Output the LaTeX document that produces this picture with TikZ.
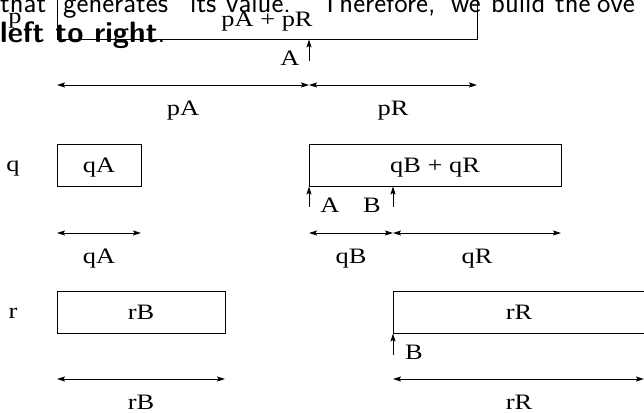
\documentclass[tikz,border=0pt]{standalone}
\usepackage{fontspec}
\newfontfamily\diagfont{Liberation Serif}[FakeStretch=1.2]
\usetikzlibrary{arrows.meta}
\begin{document}
\begin{tikzpicture}[x=1pt,y=-1pt,
  lbl/.style={font=\diagfont\fontsize{22}{26}\selectfont, inner sep=0pt, anchor=base},
  doc/.style={font=\sffamily\fontsize{28.5}{30}\selectfont, inner sep=0pt, anchor=base west},
  box/.style={draw, line width=0.9pt, inner sep=0pt, minimum height=42pt},
  tip/.tip={Stealth[length=8pt,width=5pt,inset=1.5pt]},
  ptr/.style={-tip, line width=0.9pt},
  dim/.style={tip-tip, line width=0.9pt},
]
\useasboundingbox (0,0) rectangle (644,412);
\clip (0,0) rectangle (644,412);

% document text behind the figure
\node[doc] (w1) at (0,13) {that};
\node[doc] (w2) at (63,13) {generates};
\node[doc] (w3) at (190,13) {its};
\node[doc] (w4) at (226,13) {value.};
\node[doc] (w5) at (321,13) {Therefore,};
\node[doc] (w6) at (451,13) {we};
\node[doc] (w7) at (491,13) {build};
\node[doc] (w8) at (555,13) {the};
\node[doc] (w9) at (597,13) {ove};
\node[doc, font=\sffamily\fontsize{29.5}{30}\selectfont] (line2) at (0,43) {{\bfseries left to right}.};

% row p
\node[box, minimum width=420pt, minimum height=52pt] (pbox) at (267,13) {};
\node[lbl] (plab) at (15,24) {p};
\node[lbl] (ptxt) at (267,27) {pA + pR};
\coordinate (pa) at (309,61);
\draw[ptr] (pa) -- (pa |- pbox.south);
\node[lbl] (pAl) at (290,66) {A};
\coordinate (p1) at (57,85);
\coordinate (p2) at (309,85);
\coordinate (p3) at (477,85);
\draw[dim] (p1) -- (p2);
\draw[dim] (p2) -- (p3);
\node[lbl] (pAd) at (183,115) {pA};
\node[lbl] (pRd) at (393,115) {pR};

% row q
\node[lbl] (qlab) at (13,171) {q};
\node[box, minimum width=84pt] (qAbox) at (99,165) {};
\node[lbl] (qAtxt) at (99,172) {qA};
\node[box, minimum width=252pt] (qBRbox) at (435,165) {};
\node[lbl] (qBRtxt) at (435,172) {qB + qR};
\coordinate (qa) at (309,207);
\coordinate (qb) at (393,207);
\draw[ptr] (qa) -- (qa |- qBRbox.south);
\draw[ptr] (qb) -- (qb |- qBRbox.south);
\node[lbl] (qAl) at (330,212) {A};
\node[lbl] (qBl) at (372,212) {B};
\coordinate (q1) at (57,233);
\coordinate (q2) at (141,233);
\coordinate (q3) at (309,233);
\coordinate (q4) at (393,233);
\coordinate (q5) at (561,233);
\draw[dim] (q1) -- (q2);
\draw[dim] (q3) -- (q4);
\draw[dim] (q4) -- (q5);
\node[lbl] (qAd) at (99,263) {qA};
\node[lbl] (qBd) at (351,263) {qB};
\node[lbl] (qRd) at (477,263) {qR};

% row r
\node[lbl] (rlab) at (13,318) {r};
\node[box, minimum width=168pt] (rBbox) at (141,312) {};
\node[lbl] (rBtxt) at (141,319) {rB};
\node[box, minimum width=252pt] (rRbox) at (519,312) {};
\node[lbl] (rRtxt) at (519,319) {rR};
\coordinate (ra) at (393,355);
\draw[ptr] (ra) -- (ra |- rRbox.south);
\node[lbl] (rBl) at (414,359) {B};
\coordinate (r1) at (57,379);
\coordinate (r2) at (225,379);
\coordinate (r3) at (393,379);
\coordinate (r4) at (644,379);
\draw[dim] (r1) -- (r2);
\draw[dim] (r3) -- (r4);
\node[lbl] (rBd) at (141,409) {rB};
\node[lbl] (rRd) at (519,409) {rR};
\end{tikzpicture}
\end{document}
